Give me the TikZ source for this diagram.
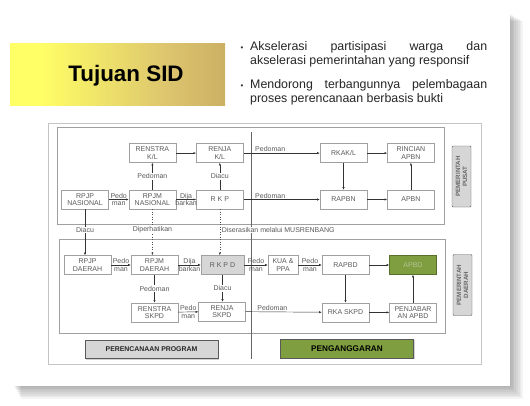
\documentclass[tikz,border=0pt]{standalone}
\usepackage{fontspec}
\setmainfont{Liberation Sans}
\usetikzlibrary{positioning,arrows.meta,shadows}
\definecolor{framegray}{HTML}{C4C4C4}
\definecolor{boxline}{HTML}{A0A0A0}
\definecolor{boxtext}{HTML}{5A5A5A}
\definecolor{fillgray}{HTML}{D6D6D6}
\definecolor{leaf}{HTML}{7E9E40}
\definecolor{leaftext}{HTML}{B4C496}
\definecolor{sunny}{HTML}{FFFF66}
\definecolor{sandy}{HTML}{DCC46E}
\definecolor{gold}{HTML}{AC8A52}
\pgfdeclarehorizontalshading{band}{100bp}{color(0bp)=(sunny); color(32bp)=(sunny); color(62bp)=(sandy); color(100bp)=(gold)}
\tikzset{
  >={Latex[length=2.6pt,width=2.2pt]},
  small/.style={font=\fontsize{7}{7.6}\selectfont},
  doc/.style={draw=boxline, fill=white, small, text=boxtext, align=center,
              minimum width=47pt, minimum height=19pt, inner sep=1pt},
  note/.style={small, text=boxtext, fill=white, inner sep=0.8pt, align=center},
  gapnote/.style={small, text=boxtext, inner sep=0pt, align=center},
  flow/.style={->, draw=black!80, line width=0.45pt},
  hint/.style={->, draw=black!70, dotted, line width=0.5pt},
  level/.style={draw=black!65, fill=fillgray, rounded corners=1pt, rotate=90,
                font=\fontsize{6.2}{6.8}\selectfont\bfseries, text=black!60, align=center,
                minimum width=61pt, minimum height=19pt, inner sep=0.5pt},
  phase/.style={draw=black!65, text=black!85, minimum width=133pt, minimum height=18pt,
                drop shadow={shadow xshift=1.2pt, shadow yshift=-1.2pt, opacity=0.35}},
  point/.style={text width=237pt, align=justify, inner sep=0pt, anchor=north west,
                font=\fontsize{12.4}{14}\selectfont, text=black!85},
  dot/.style={font=\fontsize{8}{8}\selectfont, text=black!80, inner sep=0pt},
}

\begin{document}
\begin{tikzpicture}[x=1pt,y=-1pt]
  \useasboundingbox (0,0) rectangle (530,405);
  % slide with soft shadow
  \foreach \s in {0,...,7}
    \fill[black, opacity=0.045] (14+\s,14+\s) rectangle (511+1.7*\s,387+1.7*\s);
  \fill[white] (10,8) rectangle (510,386);

  % title band and bullets
  \shade[shading=band] (10,43) rectangle (225,105);
  \node[font=\fontsize{22.4}{25}\selectfont\bfseries] (title) at (126,76) {Tujuan SID};
  \node[dot] (dot1) at (242,49) {•};
  \node[point] (aim1) at (250,41.5) {Akselerasi partisipasi warga dan\linebreak akselerasi pemerintahan yang responsif};
  \node[dot] (dot2) at (242,87) {•};
  \node[point] (aim2) at (250,79.5) {Mendorong terbangunnya pelembagaan\linebreak proses perencanaan berbasis bukti};

  % frames
  \draw[framegray, line width=0.8pt] (48,123) rectangle (481,364);
  \draw[boxline] (57,127) rectangle (444,224);
  \draw[boxline] (59,239) rectangle (445,333);
  \draw[black!60] (251,132) -- (251,359);

  % central government
  \node[doc] (rpjpn) at (85,199.5) {RPJP\\NASIONAL};
  \node[doc, right=20pt of rpjpn] (rpjmn) {RPJM\\NASIONAL};
  \node[doc, right=20pt of rpjmn] (rkp) {R K P};
  \node[doc, above=27pt of rpjmn] (renstrakl) {RENSTRA\\K/L};
  \node[doc, above=27pt of rkp] (renjakl) {RENJA\\K/L};
  \node[doc] (rapbn) at (343.5,199.5) {RAPBN};
  \node[doc, right=20pt of rapbn] (apbn) {APBN};
  \node[doc, above=27pt of rapbn] (rkakl) {RKAK/L};
  \node[doc, above=27pt of apbn] (rincian) {RINCIAN\\APBN};

  \draw[flow] (rpjpn) -- node[gapnote]{Pedo\\man} (rpjmn);
  \draw[flow] (rpjmn) -- node[gapnote]{Dija\\barkan} (rkp);
  \draw[flow] (rpjmn) -- node[note]{Pedoman} (renstrakl);
  \draw[flow] (rkp) -- node[note]{Diacu} (renjakl);
  \draw[flow] (renstrakl) -- (renjakl);
  \draw[flow] (renjakl) -- node[gapnote, above=1pt, pos=0.35]{Pedoman} (rkakl);
  \draw[flow] (rkp) -- node[gapnote, above=1pt, pos=0.35]{Pedoman} (rapbn);
  \draw[flow] (rkakl) -- (rincian);
  \draw[flow] (rkakl) -- (rapbn);
  \draw[flow] (rapbn) -- (apbn);
  \draw[flow] (apbn) -- (rincian);

  % regional government
  \node[doc] (rpjpd) at (87.5,265) {RPJP\\DAERAH};
  \node[doc] (rpjmd) at (154.5,265) {RPJM\\DAERAH};
  \node[doc, fill=fillgray, minimum width=43pt] (rkpd) at (222.5,265) {R K P D};
  \node[doc, minimum width=30pt] (kua) at (283,265) {KUA \&\\PPA};
  \node[doc] (rapbd) at (345.5,265) {RAPBD};
  \node[doc, fill=leaf, draw=leaf!70!black, text=leaftext] (apbd) at (413,265) {APBD};
  \node[doc, below=28pt of rpjmd] (renstras) {RENSTRA\\SKPD};
  \node[doc] (renjas) at (222,311.5) {RENJA\\SKPD};
  \node[doc, below=28pt of rapbd] (rkas) {RKA SKPD};
  \node[doc, below=28pt of apbd] (penjabar) {PENJABAR\\AN APBD};

  \draw[flow] (rpjpd) -- node[gapnote]{Pedo\\man} (rpjmd);
  \draw[flow] (rpjmd) -- node[gapnote]{Dija\\barkan} (rkpd);
  \draw[flow] (rkpd) -- node[gapnote]{Pedo\\man} (kua);
  \draw[flow] (kua) -- node[gapnote]{Pedo\\man} (rapbd);
  \draw[flow] (rapbd) -- (apbd);
  \draw[flow] (rpjmd) -- node[note]{Pedoman} (renstras);
  \draw[flow] (rkpd) -- node[note]{Diacu} (rkpd.south |- renjas.north);
  \draw[flow] (renstras) -- node[gapnote]{Pedo\\man} (renjas);
  \draw[flow] (renjas) -- node[gapnote, above=1pt, pos=0.35]{Pedoman} (rkas);
  \draw[flow] (rapbd) -- (rkas);
  \draw[flow] (rkas) -- (penjabar);
  \draw[flow] (penjabar) -- (apbd);

  % links between the two levels
  \draw[flow] (rpjpn.south) -- node[note, pos=0.45]{Diacu} (rpjpn.south |- rpjpd.north);
  \draw[hint] (rpjmn.south) -- node[note, pos=0.45]{Diperhatikan} (rpjmn.south |- rpjmd.north);
  \draw[hint] (rkp.south) -- (rkp.south |- rkpd.north);
  \node[note, anchor=west] (musren) at ([xshift=1pt]rkp.south |- 0,230) {Diserasikan melalui MUSRENBANG};

  % side and bottom labels
  \node[level] (pusat) at (461.5,176.5) {PEMERINTAH\\PUSAT};
  \node[level] (daerah) at (462.5,285) {PEMERINTAH\\DAERAH};
  \node[phase, fill=fillgray, font=\fontsize{6.9}{8}\selectfont\bfseries] (plan) at (151.5,349.5) {PERENCANAAN PROGRAM};
  \node[phase, fill=leaf, text=black, minimum height=19pt, font=\fontsize{8.2}{9}\selectfont\bfseries] (budget) at (347,348.5) {PENGANGGARAN};
\end{tikzpicture}
\end{document}
